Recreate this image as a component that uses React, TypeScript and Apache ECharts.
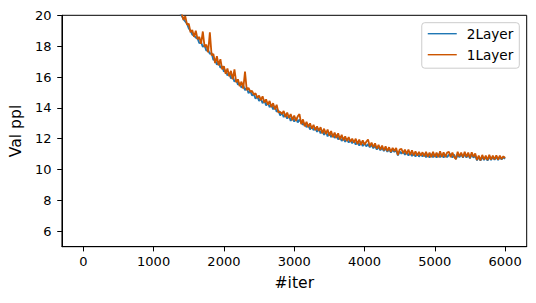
import React, { useEffect, useRef } from "react";
import * as echarts from "echarts";

// evaluation iterations: first logged point and logging interval
const firstIter = 1350;
const evalStep = 25;

const xTicks = [0, 1000, 2000, 3000, 4000, 5000, 6000];
const yTicks = [6, 8, 10, 12, 14, 16, 18, 20];

const seriesNames = ["2Layer", "1Layer"];

const ppl2Layer = [
  20.5, 20.15, 19.95, 19.75, 19.6, 19.45, 19.15, 19.0, 18.75, 18.7,
  18.55, 18.5, 18.2, 18.25, 17.95, 18.05, 17.7, 17.75, 17.5, 17.55,
  17.1, 17.15, 16.8, 16.95, 16.6, 16.7, 16.35, 16.45, 16.1, 16.25,
  15.9, 16.05, 15.7, 15.8, 15.5, 15.6, 15.3, 15.45, 15.15, 15.3,
  14.95, 15.1, 14.8, 14.9, 14.6, 14.75, 14.45, 14.6, 14.3, 14.5,
  14.15, 14.35, 14.05, 14.2, 13.9, 14.1, 13.75, 13.85, 13.5, 13.7,
  13.4, 13.6, 13.3, 13.5, 13.15, 13.4, 13.1, 13.35, 13.05, 13.25,
  13.05, 12.9, 13.0, 12.75, 12.9, 12.6, 12.8, 12.55, 12.7, 12.45,
  12.65, 12.35, 12.55, 12.25, 12.5, 12.15, 12.4, 12.1, 12.3, 12.05,
  12.25, 11.95, 12.15, 11.85, 12.05, 11.8, 12.0, 11.75, 11.9, 11.7,
  11.88, 11.62, 11.82, 11.55, 11.8, 11.52, 11.72, 11.5, 11.65, 11.45,
  11.6, 11.38, 11.55, 11.3, 11.48, 11.25, 11.42, 11.2, 11.38, 11.15,
  11.32, 11.1, 11.28, 11.15, 11.25, 10.92, 11.18, 11.02, 11.2, 10.95,
  11.15, 10.9, 11.12, 10.88, 11.05, 10.85, 11.05, 10.84, 11.0, 10.85,
  11.02, 10.8, 11.0, 10.78, 11.02, 10.8, 11.0, 10.78, 11.02, 10.8,
  11.0, 10.78, 11.0, 10.8, 10.95, 11.0, 10.78, 10.98, 10.68, 10.95,
  10.8, 11.0, 10.78, 11.0, 10.78, 10.98, 10.72, 10.98, 10.78, 10.9,
  10.6, 10.82, 10.58, 10.82, 10.62, 10.82, 10.58, 10.85, 10.62, 10.82,
  10.64, 10.84, 10.62, 10.82, 10.65, 10.8, 10.7,
];

const ppl1Layer = [
  20.6, 20.2, 20.1, 19.7, 19.95, 19.4, 19.45, 18.9, 19.05, 18.6,
  19.0, 18.45, 18.6, 18.15, 18.95, 17.95, 18.1, 17.6, 18.9, 17.4,
  17.5, 16.9, 17.35, 16.75, 17.15, 16.5, 16.7, 16.2, 16.55, 16.05,
  16.4, 15.85, 16.5, 15.65, 15.85, 15.4, 15.7, 15.25, 16.35, 15.15,
  15.3, 15.05, 15.1, 14.85, 14.95, 14.65, 14.8, 14.5, 14.75, 14.35,
  14.55, 14.2, 14.45, 14.05, 14.3, 13.9, 14.2, 13.7, 13.75, 13.6,
  13.8, 13.4, 13.7, 13.35, 13.6, 13.2, 13.5, 13.15, 13.45, 13.6,
  12.95, 13.25, 12.8, 13.1, 12.75, 13.0, 12.65, 12.9, 12.55, 12.8,
  12.5, 12.75, 12.35, 12.65, 12.3, 12.6, 12.2, 12.5, 12.1, 12.4,
  12.05, 12.35, 11.95, 12.25, 11.9, 12.15, 11.85, 12.1, 11.8, 12.0,
  11.75, 12.0, 11.65, 11.95, 11.6, 11.9, 11.6, 11.8, 11.95, 11.5,
  11.75, 11.45, 11.7, 11.35, 11.6, 11.3, 11.55, 11.25, 11.5, 11.2,
  11.45, 11.15, 11.4, 11.2, 11.4, 10.95, 11.3, 11.35, 11.05, 11.3,
  11.0, 11.3, 10.95, 11.25, 10.92, 11.18, 10.9, 11.15, 10.9, 11.12,
  10.85, 11.15, 10.82, 11.1, 10.8, 11.15, 10.82, 11.1, 10.8, 11.18,
  10.82, 11.12, 10.8, 11.1, 11.15, 10.8, 11.1, 10.82, 10.68, 11.15,
  10.85, 11.1, 10.8, 11.15, 10.82, 11.1, 10.75, 11.12, 10.82, 11.05,
  10.62, 10.9, 10.6, 10.95, 10.65, 10.9, 10.62, 10.95, 10.65, 10.9,
  10.66, 10.92, 10.65, 10.9, 10.68, 10.86, 10.75,
];

const colors = ["#1f77b4", "#cc5500"];

const FONT = "DejaVu Sans";

export default function App() {
  const ref = useRef<HTMLDivElement>(null);
  useEffect(() => {
    if (!ref.current) return;
    const chart = echarts.init(ref.current, undefined, { renderer: "svg" });
    const toPairs = (vals: number[]) =>
      vals.map((v, i) => [firstIter + i * evalStep, v]);
    chart.setOption({
      animation: false,
      backgroundColor: "#ffffff",
      color: colors,
      grid: {
        left: 61.3,
        top: 15.3,
        right: 9.3,
        bottom: 56.3,
        show: true,
        borderColor: "#000",
        borderWidth: 1,
        backgroundColor: "transparent",
      },
      legend: {
        orient: "vertical",
        right: 16.7,
        top: 22.7,
        data: seriesNames,
        icon: "path://M0,0H29V1.4H0Z",
        itemWidth: 29,
        itemHeight: 14,
        itemGap: 7,
        padding: [4, 6, 6.5, 6],
        borderColor: "#cccccc",
        borderWidth: 1,
        borderRadius: 3,
        backgroundColor: "rgba(255,255,255,0.8)",
        textStyle: {
          fontFamily: FONT,
          fontSize: 13.6,
          color: "#000",
          padding: [0, 0, 0, 5],
        },
      },
      xAxis: {
        type: "value",
        min: -304,
        max: 6307,
        name: "#iter",
        nameLocation: "middle",
        nameGap: 28,
        nameTextStyle: { fontFamily: FONT, fontSize: 15.6, color: "#000" },
        axisLine: { show: true, onZero: false, lineStyle: { color: "#000", width: 1 } },
        axisTick: {
          show: true,
          inside: false,
          length: 4.7,
          lineStyle: { color: "#000", width: 1 },
          customValues: xTicks,
        },
        axisLabel: {
          fontFamily: FONT,
          fontSize: 13,
          color: "#000",
          margin: 8,
          customValues: xTicks,
          formatter: (v: number) => String(v),
        },
        splitLine: { show: false },
      },
      yAxis: {
        type: "value",
        min: 5,
        max: 20,
        name: "Val ppl",
        nameLocation: "middle",
        nameGap: 35.5,
        nameRotate: 90,
        nameTextStyle: { fontFamily: FONT, fontSize: 15.6, color: "#000" },
        axisLine: { show: true, onZero: false, lineStyle: { color: "#000", width: 1 } },
        axisTick: {
          show: true,
          inside: false,
          length: 4.7,
          lineStyle: { color: "#000", width: 1 },
          customValues: yTicks,
        },
        axisLabel: {
          fontFamily: FONT,
          fontSize: 13,
          color: "#000",
          margin: 10.5,
          customValues: yTicks,
          formatter: (v: number) => String(v),
        },
        splitLine: { show: false },
      },
      series: [
        {
          name: seriesNames[0],
          type: "line",
          data: toPairs(ppl2Layer),
          symbol: "none",
          clip: true,
          lineStyle: { width: 1.8, color: colors[0] },
          itemStyle: { color: colors[0] },
        },
        {
          name: seriesNames[1],
          type: "line",
          data: toPairs(ppl1Layer),
          symbol: "none",
          clip: true,
          lineStyle: { width: 1.8, color: colors[1] },
          itemStyle: { color: colors[1] },
        },
      ],
    });
    return () => chart.dispose();
  }, []);
  return (
    <div
      ref={ref}
      style={{ position: "fixed", left: 0, top: 0, width: 536, height: 303 }}
    />
  );
}
